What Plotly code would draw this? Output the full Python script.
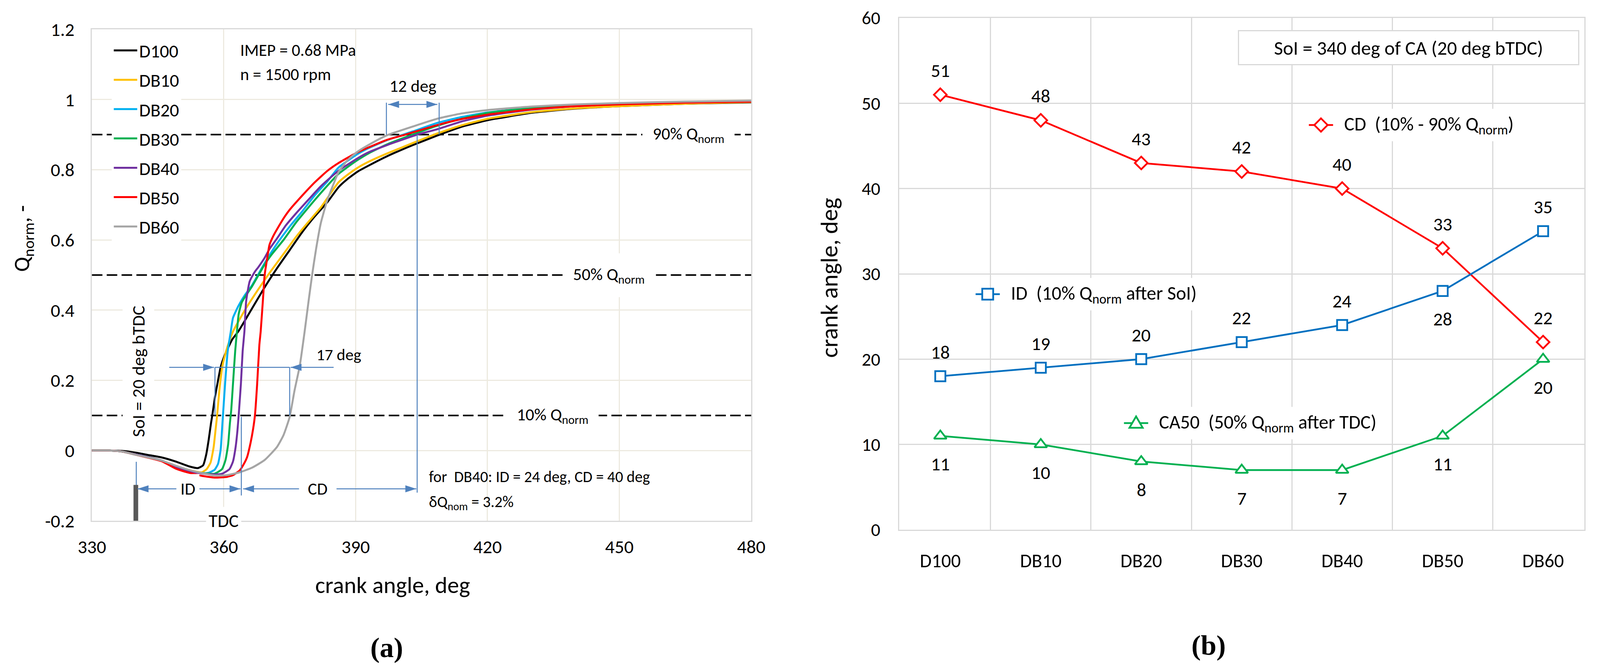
import plotly.graph_objects as go

W, H = 4249, 1715          # reference size, used to place things in paper fractions
FONT = "Carlito, Lato, sans-serif"
BLUE = "#4F81BD"

# ---------------- panel (a) data: normalised heat release ----------------
SERIES = ["D100", "DB10", "DB20", "DB30", "DB40", "DB50", "DB60"]
COLORS = ["#000000", "#FFC000", "#00B0F0", "#00B050", "#7030A0", "#FF0000", "#A5A5A5"]

ca_d100 = [330, 334, 337, 340, 343, 346, 349, 351, 352.1, 354.1, 355.3, 356, 356.6, 357.1, 357.4, 358, 358.6,
           359.3, 360.1, 361.9, 363.3, 366.4, 369.3, 372.1, 375, 377.9, 380.7, 383.6, 386.1, 388, 390.5, 393,
           397.1, 403, 408.5, 414, 420, 430, 440, 450, 465, 480]
q_d100 = [0, 0, -0.001, -0.006, -0.013, -0.02, -0.031, -0.040, -0.045, -0.050, -0.042, -0.012, 0.033, 0.078,
          0.101, 0.152, 0.193, 0.238, 0.268, 0.316, 0.339, 0.404, 0.465, 0.519, 0.571, 0.623, 0.667, 0.708,
          0.750, 0.772, 0.795, 0.812, 0.838, 0.870, 0.897, 0.922, 0.941, 0.962, 0.974, 0.981, 0.988, 0.992]

ca_db10 = [330, 334, 337, 340, 343, 346, 349, 351, 353, 355, 356.1, 357, 357.7, 358.1, 358.5, 359, 359.7, 360.7,
           362.1, 365, 367.9, 370.7, 373.6, 376.4, 379.3, 382.1, 386.1, 388, 390.5, 393, 397.1, 403, 408.5, 414,
           420, 430, 440, 450, 465, 480]
q_db10 = [0, 0, -0.003, -0.011, -0.019, -0.029, -0.045, -0.052, -0.058, -0.062, -0.053, -0.034, 0.01, 0.055,
          0.101, 0.171, 0.242, 0.29, 0.339, 0.404, 0.46, 0.511, 0.56, 0.608, 0.652, 0.693, 0.764, 0.784, 0.806,
          0.823, 0.846, 0.876, 0.903, 0.926, 0.945, 0.964, 0.975, 0.981, 0.988, 0.993]

ca_db20 = [330, 334, 337, 340, 343, 346, 349, 351, 353, 355, 356.4, 357.9, 358.7, 359.3, 359.7, 359.9, 360.3,
           360.9, 361.6, 362.1, 363.3, 364.7, 366.4, 369.3, 372.1, 375, 377.9, 380.7, 383.6, 386.1, 390.5, 393,
           397.1, 403, 408.5, 414, 420, 430, 440, 450, 465, 480]
q_db20 = [0, 0, -0.003, -0.011, -0.019, -0.029, -0.046, -0.054, -0.060, -0.064, -0.064, -0.055, -0.038, 0.003,
          0.078, 0.115, 0.19, 0.283, 0.339, 0.378, 0.411, 0.441, 0.470, 0.534, 0.589, 0.638, 0.682, 0.727,
          0.767, 0.806, 0.845, 0.862, 0.884, 0.909, 0.933, 0.950, 0.963, 0.976, 0.984, 0.989, 0.993, 0.995]

ca_db30 = [330, 334, 337, 340, 343, 346, 349, 351, 353, 355, 357.9, 359.6, 360.4, 361, 361.4, 361.7, 362.1,
           362.6, 363, 363.4, 364.1, 365, 366.4, 368.1, 369.3, 371, 373.6, 376.4, 379.3, 382.1, 386.1, 388,
           390.5, 393, 397.1, 404, 408.5, 414, 420, 430, 440, 450, 465, 480]
q_db30 = [0, 0, -0.003, -0.011, -0.019, -0.029, -0.046, -0.054, -0.060, -0.064, -0.066, -0.053, -0.027, 0.018,
          0.078, 0.115, 0.19, 0.283, 0.339, 0.389, 0.422, 0.441, 0.467, 0.504, 0.53, 0.56, 0.60, 0.649, 0.693,
          0.734, 0.788, 0.806, 0.828, 0.847, 0.872, 0.905, 0.925, 0.945, 0.962, 0.976, 0.984, 0.989, 0.993, 0.996]

ca_db40 = [330, 334, 337, 340, 343, 346, 349, 351, 353, 355, 357.9, 359.6, 361.3, 362.1, 362.7, 363.1, 363.4,
           363.9, 364.3, 364.7, 365.1, 365.9, 367, 367.9, 369.3, 370.4, 372.1, 374.1, 376.4, 379.3, 382.1,
           386.1, 390.5, 393, 397.1, 404, 408.5, 414, 420, 430, 440, 450, 465, 480]
q_db40 = [0, 0, -0.003, -0.011, -0.019, -0.029, -0.047, -0.055, -0.061, -0.065, -0.068, -0.066, -0.053, -0.031,
          0.01, 0.055, 0.101, 0.19, 0.283, 0.339, 0.426, 0.482, 0.508, 0.523, 0.549, 0.574, 0.604, 0.641,
          0.675, 0.715, 0.753, 0.797, 0.833, 0.850, 0.870, 0.900, 0.915, 0.937, 0.954, 0.971, 0.981, 0.987,
          0.992, 0.995]

ca_db50 = [330, 334, 337, 340, 343, 346, 349, 352, 355, 357.9, 360.7, 362.1, 363.6, 364.4, 365.3, 366.1, 366.7,
           367.1, 367.6, 368.1, 368.4, 369, 369.3, 369.9, 370.4, 371.3, 372.1, 373.9, 375, 377.9, 380.7, 383.6,
           386.1, 390.5, 397.1, 401.3, 408.5, 414, 420, 430, 440, 450, 465, 480]
q_db50 = [0, 0, -0.003, -0.012, -0.021, -0.031, -0.051, -0.063, -0.072, -0.077, -0.075, -0.070, -0.057, -0.042,
          -0.019, 0.022, 0.063, 0.101, 0.19, 0.301, 0.339, 0.445, 0.50, 0.549, 0.586, 0.612, 0.63, 0.667, 0.686,
          0.727, 0.764, 0.797, 0.819, 0.850, 0.885, 0.900, 0.927, 0.944, 0.957, 0.972, 0.981, 0.986, 0.991, 0.994]

ca_db60 = [330, 334, 337, 340, 343, 346, 349.3, 352, 355, 357.9, 360.7, 363.6, 366.4, 369.3, 372.1, 373.6, 375,
           376.1, 377.3, 378.4, 379.3, 380.1, 381, 382.1, 383.6, 385, 386.1, 388, 390.5, 393, 397.1, 403, 408.5,
           414, 420, 430, 440, 450, 465, 480]
q_db60 = [0, 0, -0.003, -0.012, -0.020, -0.029, -0.044, -0.055, -0.064, -0.071, -0.070, -0.062, -0.049, -0.027,
          0.01, 0.044, 0.096, 0.171, 0.242, 0.339, 0.426, 0.50, 0.574, 0.649, 0.715, 0.76, 0.793, 0.825, 0.852,
          0.871, 0.898, 0.923, 0.945, 0.960, 0.970, 0.980, 0.986, 0.990, 0.994, 0.997]

CA_DATA = [ca_d100, ca_db10, ca_db20, ca_db30, ca_db40, ca_db50, ca_db60]
Q_DATA = [q_d100, q_db10, q_db20, q_db30, q_db40, q_db50, q_db60]

# ---------------- panel (b) data ----------------
FUELS = ["D100", "DB10", "DB20", "DB30", "DB40", "DB50", "DB60"]
CD_VALUES = [51, 48, 43, 42, 40, 33, 22]
ID_VALUES = [18, 19, 20, 22, 24, 28, 35]
CA50_VALUES = [11, 10, 8, 7, 7, 11, 20]
SOI = 340
TDC = 360

X_TICKS_A = [330, 360, 390, 420, 450, 480]
Y_TICKS_A = [-0.2, 0, 0.2, 0.4, 0.6, 0.8, 1, 1.2]
Y_TICKTEXT_A = ["-0.2", "0", "0.2", "0.4", "0.6", "0.8", "1", "1.2"]
Y_TICKS_B = [0, 10, 20, 30, 40, 50, 60]

# label placement styling for panel (b)
CD_LABEL_SIDE = [1, 1, 1, 1, 1, 1, 1]
ID_LABEL_SIDE = [1, 1, 1, 1, 1, -1, 1]
CA50_LABEL_SIDE = [-1, -1, -1, -1, -1, -1, -1]

fig = go.Figure()

for name, color, xs, ys in zip(SERIES, COLORS, CA_DATA, Q_DATA):
    fig.add_trace(go.Scatter(
        x=xs, y=ys, mode="lines", name=name, legendgroup=name,
        line=dict(color=color, width=5, shape="spline", smoothing=0.5),
        xaxis="x", yaxis="y", hoverinfo="skip"))

ann = []
shapes = []

def txt(x, y, text, size, xref="x", yref="y", **kw):
    d = dict(x=x, y=y, xref=xref, yref=yref, text=text, showarrow=False,
             xanchor="center", yanchor="middle",
             font=dict(family=FONT, size=size, color="black"))
    d.update(kw)
    ann.append(d)

def head(x, y, direction):
    # filled triangular arrow head, tip at (x, y), size in pixels
    L, hw = 28 * direction, 9
    shapes.append(dict(type="path", xref="x", yref="y", xsizemode="pixel", ysizemode="pixel",
                       xanchor=x, yanchor=y, path=f"M0,0 L{-L},{hw} L{-L},{-hw} Z",
                       fillcolor=BLUE, line=dict(width=0), layer="above"))

def hline(x0, x1, y, color=BLUE, width=2.5):
    shapes.append(dict(type="line", xref="x", yref="y", x0=x0, x1=x1, y0=y, y1=y,
                       line=dict(color=color, width=width), layer="above"))

def vline(x, y0, y1, color=BLUE, width=2.5):
    shapes.append(dict(type="line", xref="x", yref="y", x0=x, x1=x, y0=y0, y1=y1,
                       line=dict(color=color, width=width), layer="above"))

def arrow(x_tail, x_tip, y, both=False):
    hline(x_tail, x_tip, y)
    head(x_tip, y, 1 if x_tip > x_tail else -1)
    if both:
        head(x_tail, y, -1 if x_tip > x_tail else 1)

# dashed reference lines 10/50/90 %
for lvl in (0.1, 0.5, 0.9):
    shapes.append(dict(type="line", xref="x", yref="y", x0=330, x1=480, y0=lvl, y1=lvl,
                       line=dict(color="black", width=4, dash="27px,11px"), layer="between"))

txt(465.7, 0.9, "90% Q<sub>norm</sub>", 44, bgcolor="white", borderpad=26)
txt(447.6, 0.5, "50% Q<sub>norm</sub>", 44, bgcolor="white", borderpad=26)
txt(434.8, 0.1, "10% Q<sub>norm</sub>", 44, bgcolor="white", borderpad=26)

# DB40 example: ID and CD
id_end = SOI + ID_VALUES[4]
cd_end = id_end + CD_VALUES[4]
vline(SOI + 0.1, -0.032, -0.12)
shapes.append(dict(type="line", xref="x", yref="y", x0=SOI, x1=SOI, y0=-0.098, y1=-0.2,
                   line=dict(color="#595959", width=12), layer="above"))
vline(id_end, 0.096, -0.128)
vline(cd_end, 0.9, -0.12)
arrow(SOI + 0.4, id_end - 0.2, -0.109, both=True)
arrow(id_end + 0.4, cd_end - 0.2, -0.109, both=True)
txt(351.8, -0.109, "ID", 44, bgcolor="white", borderpad=10)
txt(381.4, -0.109, "CD", 44, bgcolor="white", borderpad=22)
txt(TDC, -0.2, "TDC", 47, bgcolor="white", borderpad=6)
txt(SOI + 0.6, 0.226, "SoI = 20 deg bTDC", 46, textangle=-90, bgcolor="white", borderpad=12)

# 17 deg: ID difference D100 vs DB60
a0 = SOI + ID_VALUES[0]
a1 = SOI + ID_VALUES[-1]
q17 = 0.237
vline(a0, 0.1, q17)
vline(a1, 0.1, q17)
hline(a0, a1, q17)
arrow(a0 - 10.4, a0 - 0.2, q17)
arrow(a1 + 10, a1 + 0.2, q17)
txt(386.2, 0.273, "17 deg", 42)

# 12 deg: 90 % point D100 vs DB60
e0 = SOI + ID_VALUES[-1] + CD_VALUES[-1]
e1 = SOI + ID_VALUES[0] + CD_VALUES[0]
q12 = 0.986
vline(e0, 0.9, q12 + 0.005)
vline(e1, 0.9, q12 + 0.005)
arrow(e0 + 0.4, e1 - 0.4, q12, both=True)
txt((e0 + e1) / 2, 1.039, "12 deg", 44)

txt(363.6, 1.14, "IMEP = 0.68 MPa", 43, xanchor="left")
txt(363.6, 1.072, "n = 1500 rpm", 43, xanchor="left")
txt(406.5, -0.075, "for  DB40: ID = 24 deg, CD = 40 deg", 40, xanchor="left")
txt(406.5, -0.149, "\u03b4Q<sub>nom</sub> = 3.2%", 40, xanchor="left")

# axis titles & panel captions
txt(61 / W, 1 - 610 / H, "Q<sub>norm</sub>, -", 57, xref="paper", yref="paper", textangle=-90)
txt(1043 / W, 1 - 1497 / H, "crank angle, deg", 60, xref="paper", yref="paper")
txt(2202 / W, 1 - 711 / H, "crank angle, deg", 62, xref="paper", yref="paper", textangle=-90)
txt(1027 / W, 1 - 1658 / H, "<b>(a)</b>", 72, xref="paper", yref="paper",
    font=dict(family="Liberation Serif, DejaVu Serif, serif", size=72, color="black"))
txt(3210 / W, 1 - 1652 / H, "<b>(b)</b>", 72, xref="paper", yref="paper",
    font=dict(family="Liberation Serif, DejaVu Serif, serif", size=72, color="black"))

# ---------------- panel (b) traces ----------------
B_SERIES = [
    (CD_VALUES, CD_LABEL_SIDE, "CD  (10% - 90% Q<sub>norm</sub>)", "#FF0000",
     "diamond", 25, "M0,17 L17,0 L0,-17 L-17,0 Z", 3508, 320),
    (ID_VALUES, ID_LABEL_SIDE, "ID  (10% Q<sub>norm</sub> after SoI)", "#0070C0",
     "square", 26, "M-14,-14 L14,-14 L14,14 L-14,14 Z", 2623, 753),
    (CA50_VALUES, CA50_LABEL_SIDE, "CA50  (50% Q<sub>norm</sub> after TDC)", "#00B050",
     "triangle-up", 28, "M0,17 L17,-12 L-17,-12 Z", 3017, 1083),
]

for vals, sides, name, color, symbol, size, sym_path, lx, ly in B_SERIES:
    fig.add_trace(go.Scatter(
        x=FUELS, y=vals, mode="lines+markers", name=name, showlegend=False,
        line=dict(color=color, width=4.5),
        marker=dict(symbol=symbol, size=size, color="white", line=dict(color=color, width=4.5)),
        xaxis="x2", yaxis="y2", hoverinfo="skip"))
    for f, v, s in zip(FUELS, vals, sides):
        txt(f, v, str(v), 48, xref="x2", yref="y2", yshift=62 if s > 0 else -72)
    # in-plot legend entry (symbol + text), as in the reference
    px, py = lx / W, 1 - ly / H
    shapes.append(dict(type="rect", xref="paper", yref="paper", xsizemode="pixel", ysizemode="pixel",
                       xanchor=px, yanchor=py, x0=-40, x1=60, y0=-40, y1=40,
                       fillcolor="white", line=dict(width=0), layer="between"))
    shapes.append(dict(type="line", xref="paper", yref="paper", xsizemode="pixel", ysizemode="pixel",
                       xanchor=px, yanchor=py, x0=-31, x1=31, y0=0, y1=0,
                       line=dict(color=color, width=4.5), layer="above"))
    shapes.append(dict(type="path", xref="paper", yref="paper", xsizemode="pixel", ysizemode="pixel",
                       xanchor=px, yanchor=py, path=sym_path, fillcolor="white",
                       line=dict(color=color, width=4.5), layer="above"))
    txt(px, py, name, 49, xref="paper", yref="paper", xanchor="left", xshift=50,
        bgcolor="white", borderpad=8)

# SoI box in panel (b)
txt(3741 / W, 1 - 122 / H, "SoI = 340 deg of CA (20 deg bTDC)", 50, xref="paper", yref="paper",
    bgcolor="white", bordercolor="#D9D9D9", borderwidth=3, width=866, height=82)

grid_a = "#EDEAE0"
frame = "#D9D9D9"
tickfont = dict(family=FONT, size=48, color="black")

fig.update_layout(
    autosize=True,
    margin=dict(l=0, r=0, t=0, b=0, autoexpand=False),
    paper_bgcolor="white", plot_bgcolor="white",
    showlegend=True,
    legend=dict(x=297 / W, y=1 - 92 / H, xref="paper", yref="paper", xanchor="left", yanchor="top",
                bgcolor="white", borderwidth=0, font=dict(family=FONT, size=47, color="black"),
                itemwidth=60, tracegroupgap=11),
    xaxis=dict(domain=[244 / W, 1995 / W], range=[330, 480], tickvals=X_TICKS_A,
               showgrid=True, gridcolor=grid_a, gridwidth=3, zeroline=False,
               showline=True, mirror=True, linecolor=frame, linewidth=3,
               ticks="", tickfont=tickfont, ticklabelstandoff=22, anchor="y"),
    yaxis=dict(domain=[1 - 1333 / H, 1 - 75 / H], range=[-0.2, 1.2], tickvals=Y_TICKS_A,
               ticktext=Y_TICKTEXT_A, showgrid=True, gridcolor=grid_a, gridwidth=3, zeroline=False,
               showline=True, mirror=True, linecolor=frame, linewidth=3,
               ticks="", tickfont=tickfont, ticklabelstandoff=32, anchor="x"),
    xaxis2=dict(domain=[2388 / W, 4207 / W], type="category", categoryorder="array",
                categoryarray=FUELS, tickson="boundaries", showgrid=True, gridcolor=frame, gridwidth=3,
                showline=True, mirror=True, linecolor=frame, linewidth=3, ticks="",
                tickfont=dict(family=FONT, size=49, color="black"), ticklabelstandoff=34, anchor="y2"),
    yaxis2=dict(domain=[1 - 1356 / H, 1 - 46 / H], range=[0, 60], tickvals=Y_TICKS_B,
                showgrid=True, gridcolor=frame, gridwidth=3, zeroline=False,
                showline=True, mirror=True, linecolor=frame, linewidth=3, ticks="",
                tickfont=dict(family=FONT, size=47, color="black"), ticklabelstandoff=36, anchor="x2"),
    annotations=ann, shapes=shapes,
)

post = ("document.documentElement.style.margin='0';document.body.style.margin='0';"
        "document.body.style.overflow='hidden';"
        "var gd=document.getElementById('{plot_id}');if(window.Plotly){Plotly.Plots.resize(gd);}")
fig.write_html("out.html", default_width="100vw", default_height="100vh",
               config={"responsive": True, "displayModeBar": False}, post_script=post)
